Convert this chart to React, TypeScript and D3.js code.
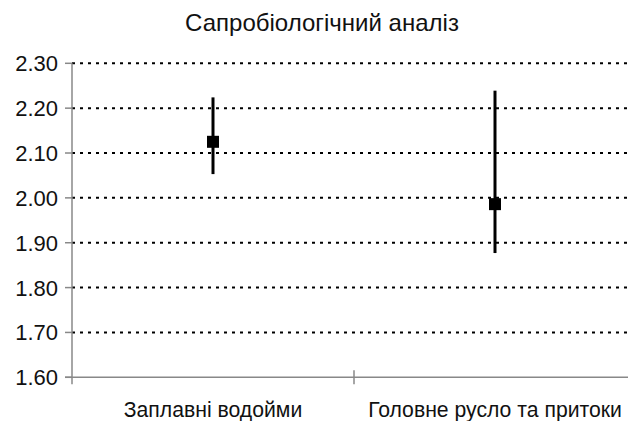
import React from "react";
import * as d3 from "d3";

const title = "Сапробіологічний аналіз";
const categories = ["Заплавні водойми", "Головне русло та притоки"];
const means = [2.125, 1.986];
const lows = [2.053, 1.877];
const highs = [2.224, 2.239];
const yTicks = [1.6, 1.7, 1.8, 1.9, 2.0, 2.1, 2.2, 2.3];

const W = 628;
const H = 421;
const left = 72;
const right = 636;
const top = 63.3;
const bottom = 377.3;

export default function App() {
  const y = d3.scaleLinear().domain([1.6, 2.3]).range([bottom, top]);
  const x = d3.scaleBand<string>().domain(categories).range([left, right]).padding(0);
  const font = "'Liberation Sans', Arial, sans-serif";
  const boundaries = [left, ...categories.map((c) => (x(c) as number) + x.bandwidth())];
  const ms = 12;

  return (
    <svg width={W} height={H} style={{ position: "absolute", left: 0, top: 0, background: "#fff" }}>
      <rect x={0} y={0} width={W} height={H} fill="#fff" />
      <text x={322} y={31} textAnchor="middle" fontFamily={font} fontSize={24} fill="#111">
        {title}
      </text>
      {yTicks.filter((t) => t > 1.6 + 1e-9).map((t) => (
        <line key={"g" + t} x1={left} x2={right} y1={y(t)} y2={y(t)} stroke="#000" strokeWidth={2} strokeDasharray="3,5" />
      ))}
      {yTicks.map((t) => (
        <g key={"t" + t}>
          <line x1={left - 7} x2={left} y1={y(t)} y2={y(t)} stroke="#888" strokeWidth={1.5} />
          <text x={58} y={y(t)} dy="0.36em" textAnchor="end" fontFamily={font} fontSize={22} fill="#111">
            {t.toFixed(2)}
          </text>
        </g>
      ))}
      <line x1={left} x2={left} y1={top} y2={bottom + 7} stroke="#888" strokeWidth={1.5} />
      <line x1={left - 7} x2={right} y1={bottom} y2={bottom} stroke="#888" strokeWidth={1.5} />
      {boundaries.slice(1).map((b, i) => (
        <line key={"b" + i} x1={b} x2={b} y1={bottom - 7} y2={bottom + 7} stroke="#888" strokeWidth={1.5} />
      ))}
      {categories.map((c, i) => {
        const cx = (x(c) as number) + x.bandwidth() / 2;
        return (
          <g key={c}>
            <line x1={cx} x2={cx} y1={y(highs[i])} y2={y(lows[i])} stroke="#000" strokeWidth={3} />
            <rect x={cx - ms / 2} y={y(means[i]) - ms / 2} width={ms} height={ms} fill="#000" />
            <text x={cx} y={417} textAnchor="middle" fontFamily={font} fontSize={21.2} fill="#111">
              {c}
            </text>
          </g>
        );
      })}
    </svg>
  );
}
